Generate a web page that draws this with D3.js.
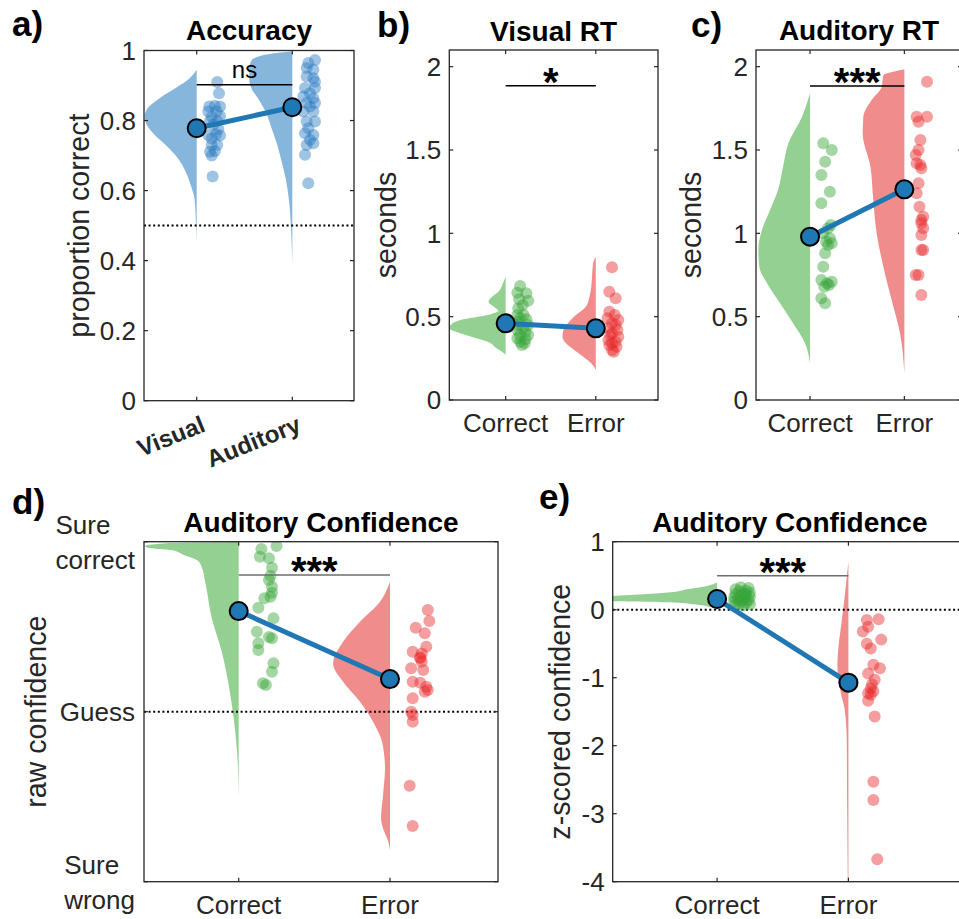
<!DOCTYPE html>
<html>
<head>
<meta charset="utf-8">
<script src="https://cdn.jsdelivr.net/npm/d3@7"></script>
<style>
body { margin: 0; background: #fff; }
svg { font-family: "Liberation Sans", Arial, Helvetica, sans-serif; }
</style>
</head>
<body>
<svg id="fig" width="959" height="919"></svg>
<script>
// ---- data ----
// points are [value, jitter in category units]
var accCats = ["Visual", "Auditory"];
var rtCats = ["Correct", "Error"];

var accVisual = [[.91,.215],[.878,.233],[.84,.132],[.842,.19],[.84,.244],[.826,.121],[.826,.209],[.811,.157],
  [.813,.244],[.799,.139],[.799,.215],[.788,.174],[.776,.226],[.759,.121],[.761,.202],[.757,.244],[.749,.157],
  [.73,.157],[.73,.215],[.711,.139],[.713,.19],[.70,.157],[.64,.167]];
var accAuditory = [[.973,.237],[.964,.167],[.95,.15],[.945,.22],[.926,.15],[.921,.22],[.911,.237],[.893,.133],
  [.893,.237],[.878,.185],[.869,.115],[.864,.22],[.85,.15],[.85,.237],[.84,.185],[.826,.115],[.826,.22],
  [.797,.15],[.797,.237],[.778,.167],[.764,.133],[.759,.22],[.745,.185],[.735,.22],[.73,.15],[.702,.133],[.621,.167]];
var accMeans = [0.778, 0.838];

var visCorrect = [[.684,.16],[.644,.13],[.64,.23],[.604,.15],[.596,.25],[.57,.19],[.55,.14],[.51,.13],[.51,.20],
  [.49,.16],[.484,.23],[.47,.14],[.45,.13],[.45,.25],[.43,.19],[.42,.13],[.41,.22],[.39,.16],[.39,.25],[.37,.13],
  [.364,.22],[.35,.16],[.34,.21],[.33,.18]];
var visError = [[.796,.18],[.65,.15],[.61,.22],[.53,.15],[.51,.21],[.49,.13],[.48,.25],[.46,.18],[.45,.22],[.43,.14],
  [.42,.24],[.40,.18],[.39,.16],[.38,.25],[.36,.14],[.35,.22],[.34,.18],[.33,.15],[.32,.23],[.30,.18],[.29,.20]];
var visMeans = [0.46, 0.43];

var audCorrect = [[1.54,.14],[1.50,.23],[1.43,.16],[1.35,.12],[1.25,.21],[1.18,.12],[1.05,.22],[1.03,.19],[1.0,.14],
  [.97,.21],[.95,.17],[.94,.23],[.93,.19],[.88,.16],[.80,.14],[.72,.12],[.70,.18],[.71,.23],[.69,.2],[.68,.15],
  [.61,.12],[.58,.16]];
var audError = [[1.91,.24],[1.70,.13],[1.70,.24],[1.67,.15],[1.56,.17],[1.50,.15],[1.47,.12],[1.42,.13],[1.41,.17],
  [1.39,.18],[1.30,.15],[1.24,.13],[1.16,.16],[1.10,.2],[1.08,.18],[1.06,.18],[1.03,.2],[.99,.18],[.90,.2],[.90,.18],
  [.75,.12],[.75,.15],[.63,.18]];
var audMeans = [0.98, 1.264];

var rawCorrect = [[.975,.25],[.957,.15],[.912,.14],[.902,.2],[.847,.22],[.80,.21],[.775,.2],[.735,.22],[.70,.22],
  [.676,.21],[.667,.17],[.612,.13],[.549,.23],[.471,.12],[.432,.22],[.44,.2],[.402,.13],[.363,.13],[.285,.23],
  [.235,.22],[.167,.16],[.157,.18]];
var rawError = [[.598,.25],[.534,.26],[.494,.17],[.461,.23],[.382,.24],[.353,.15],[.343,.21],[.32,.2],[.314,.2],
  [.294,.21],[.255,.14],[.245,.22],[.176,.15],[.17,.2],[.147,.24],[.128,.25],[.118,.23],[.079,.15],[0,.14],
  [-.02,.15],[-.059,.15],[-.435,.13],[-.672,.15]];
var rawMeans = [0.592, 0.192];

var zCorrect = [[.33,.18],[.32,.24],[.30,.14],[.28,.22],[.27,.17],[.25,.25],[.24,.2],[.23,.14],[.22,.22],[.2,.17],
  [.19,.25],[.18,.13],[.17,.21],[.15,.16],[.14,.24],[.13,.19],[.12,.13],[.1,.22],[.09,.17],[.08,.25],[.07,.14],[.06,.2]];
var zError = [[-.15,.14],[-.14,.23],[-.25,.15],[-.32,.11],[-.44,.25],[-.5,.14],[-.57,.17],[-.81,.19],[-.86,.24],
  [-.94,.15],[-1.03,.2],[-1.1,.18],[-1.16,.17],[-1.2,.19],[-1.23,.15],[-1.25,.17],[-1.34,.15],[-1.57,.2],
  [-2.53,.19],[-2.8,.19],[-3.67,.22]];
var zMeans = [0.157, -1.073];

// half-violin outlines: [value, width in category units]
var accVisualDens = [[.945,0],[.921,.073],[.893,.22],[.864,.387],[.835,.513],[.811,.544],[.788,.523],[.759,.439],
  [.73,.324],[.693,.199],[.654,.115],[.616,.063],[.578,.024],[.521,.01],[.45,0]];
var accAuditoryDens = [[.997,0],[.993,.16],[.985,.33],[.97,.43],[.95,.45],[.92,.45],[.893,.43],[.864,.36],
  [.826,.28],[.778,.217],[.73,.157],[.683,.112],[.635,.07],[.588,.042],[.54,.024],[.48,.012],[.39,0]];
var visCorrectDens = [[.74,0],[.70,.03],[.65,.08],[.62,.15],[.59,.19],[.56,.13],[.535,.08],[.51,.2],[.48,.5],
  [.455,.6],[.43,.63],[.41,.55],[.38,.38],[.35,.2],[.31,.1],[.28,.02],[.27,0]];
var visErrorDens = [[.86,0],[.82,.03],[.76,.04],[.68,.05],[.62,.07],[.56,.11],[.51,.22],[.46,.31],[.42,.36],
  [.38,.37],[.34,.33],[.30,.24],[.26,.14],[.22,.05],[.18,0]];
var audCorrectDens = [[1.84,0],[1.70,.085],[1.54,.23],[1.40,.286],[1.26,.34],[1.14,.424],[1.02,.51],[.90,.548],
  [.80,.538],[.70,.456],[.58,.318],[.46,.18],[.34,.053],[.22,0]];
var audErrorDens = [[1.985,0],[1.97,.12],[1.95,.223],[1.88,.24],[1.80,.347],[1.70,.435],[1.60,.442],[1.40,.36],
  [1.20,.33],[1.0,.294],[.80,.223],[.60,.135],[.40,.046],[.16,0]];
var rawCorrectDens = [[.998,0],[.99,.5],[.975,.62],[.965,.6],[.951,.448],[.922,.363],[.892,.277],[.863,.25],
  [.745,.218],[.549,.178],[.353,.112],[.157,.066],[-.039,.033],[-.235,.011],[-.51,0]];
var rawErrorDens = [[.765,0],[.647,.066],[.529,.198],[.412,.31],[.284,.376],[.176,.31],[.059,.198],[-.059,.112],
  [-.176,.053],[-.333,.033],[-.49,.046],[-.627,.059],[-.686,.046],[-.765,.011],[-.814,0]];
var zCorrectDens = [[.40,0],[.35,.076],[.30,.23],[.26,.335],[.23,.53],[.20,.8],[.17,1.0],[.14,.9],[.125,.8],
  [.11,.38],[.08,.18],[.04,.053],[-.01,0]];
var zErrorDens = [[.71,0],[.44,.015],[0,.04],[-.3,.06],[-.55,.076],[-.8,.084],[-1.03,.076],[-1.25,.055],
  [-1.45,.03],[-1.9,.013],[-2.8,.01],[-4,.005]];

var accTicks = [0, 0.2, 0.4, 0.6, 0.8, 1];
var rtTicks = [0, 0.5, 1, 1.5, 2];
var rawTicks = [-1, 0, 1];
var rawTickLabels = [["Sure", "wrong"], ["Guess"], ["Sure", "correct"]];
var zTicks = [-4, -3, -2, -1, 0, 1];

// ---- drawing ----
var svg = d3.select("#fig");
var ink = "#262626";
var blue = {fill: "#86b6dc", pt: "#2a7dc0"};
var green = {fill: "#95d093", pt: "#35a535"};
var red = {fill: "#f08c8c", pt: "#e8292b"};
var meanBlue = "#1f77b4";

function panel(p) {
  var x = d3.scaleLinear().domain(p.xlim).range([p.left, p.right]);
  var y = d3.scaleLinear().domain(p.ylim).range([p.bottom, p.top]);
  var g = svg.append("g");

  g.append("clipPath").attr("id", "clip" + p.id)
    .append("rect")
    .attr("x", p.left).attr("y", p.top)
    .attr("width", p.right - p.left).attr("height", p.bottom - p.top);
  var plot = g.append("g").attr("clip-path", "url(#clip" + p.id + ")");

  // half violins, left of each category
  p.groups.forEach(function(gr, i) {
    var pos = i + 1;
    var area = d3.area()
      .curve(d3.curveMonotoneY)
      .y(function(d) { return y(d[0]); })
      .x0(function(d) { return x(pos - d[1]); })
      .x1(function(d) { return x(pos); });
    plot.append("path")
      .datum(gr.dens)
      .attr("d", area)
      .attr("fill", gr.col.fill);
  });

  // reference line
  if (p.ref !== undefined) {
    plot.append("line")
      .attr("x1", p.left).attr("x2", p.right)
      .attr("y1", y(p.ref)).attr("y2", y(p.ref))
      .attr("stroke", "#000").attr("stroke-width", 2)
      .attr("stroke-dasharray", "2,2.6");
  }

  // raw points
  p.groups.forEach(function(gr, i) {
    var pos = i + 1;
    plot.append("g").selectAll("circle")
      .data(gr.pts)
      .enter()
      .append("circle")
      .attr("cx", function(d) { return x(pos + d[1]); })
      .attr("cy", function(d) { return y(d[0]); })
      .attr("r", 6)
      .attr("fill", gr.col.pt)
      .attr("fill-opacity", 0.45);
  });

  // box and ticks
  g.append("rect")
    .attr("x", p.left).attr("y", p.top)
    .attr("width", p.right - p.left).attr("height", p.bottom - p.top)
    .attr("fill", "none").attr("stroke", ink).attr("stroke-width", 1.3);
  p.yticks.forEach(function(t) {
    g.append("line").attr("x1", p.left).attr("x2", p.left + 4)
      .attr("y1", y(t)).attr("y2", y(t)).attr("stroke", ink).attr("stroke-width", 1.2);
    g.append("line").attr("x1", p.right).attr("x2", p.right - 4)
      .attr("y1", y(t)).attr("y2", y(t)).attr("stroke", ink).attr("stroke-width", 1.2);
  });
  [1, 2].forEach(function(c) {
    g.append("line").attr("x1", x(c)).attr("x2", x(c))
      .attr("y1", p.bottom).attr("y2", p.bottom - 4).attr("stroke", ink).attr("stroke-width", 1.2);
    g.append("line").attr("x1", x(c)).attr("x2", x(c))
      .attr("y1", p.top).attr("y2", p.top + 4).attr("stroke", ink).attr("stroke-width", 1.2);
  });

  // y tick labels
  if (p.ytickText) {
    p.ytickText(g, y);
  } else {
    p.yticks.forEach(function(t) {
      g.append("text")
        .attr("x", p.left - 8).attr("y", y(t))
        .attr("dy", "0.36em")
        .attr("text-anchor", "end")
        .attr("font-size", 26).attr("fill", ink)
        .text(String(t));
    });
  }

  // x tick labels
  if (p.rotLabels) {
    p.cats.forEach(function(c, i) {
      g.append("text")
        .attr("transform", "translate(" + (x(i + 1) + 10) + "," + (p.bottom + 30) + ") rotate(-22)")
        .attr("text-anchor", "end")
        .attr("font-size", 24).attr("font-weight", "bold").attr("fill", ink)
        .text(c);
    });
  } else {
    p.cats.forEach(function(c, i) {
      g.append("text")
        .attr("x", x(i + 1)).attr("y", p.bottom + 32)
        .attr("text-anchor", "middle")
        .attr("font-size", 26).attr("fill", ink)
        .text(c);
    });
  }

  // y label
  g.append("text")
    .attr("transform", "translate(" + p.ylabX + "," + ((p.top + p.bottom) / 2) + ") rotate(-90)")
    .attr("text-anchor", "middle")
    .attr("font-size", 28.6).attr("fill", ink)
    .text(p.ylabel);

  // title + panel letter
  g.append("text")
    .attr("x", (p.left + p.right) / 2).attr("y", p.titleY)
    .attr("text-anchor", "middle")
    .attr("font-size", 28).attr("font-weight", "bold").attr("fill", "#000")
    .text(p.title);
  g.append("text")
    .attr("x", p.letterX).attr("y", p.letterY)
    .attr("font-size", 35).attr("font-weight", "bold").attr("fill", "#000")
    .text(p.letter);

  // significance bar
  var sy = y(p.sigY);
  g.append("line")
    .attr("x1", x(1)).attr("x2", x(2)).attr("y1", sy).attr("y2", sy)
    .attr("stroke", p.sigCol).attr("stroke-width", 1.5);
  if (p.sig === "ns") {
    g.append("text")
      .attr("x", (x(1) + x(2)) / 2).attr("y", sy - 7)
      .attr("text-anchor", "middle").attr("font-size", 24).attr("fill", "#000")
      .text(p.sig);
  } else {
    g.append("text")
      .attr("x", (x(1) + x(2)) / 2).attr("y", sy + 10)
      .attr("text-anchor", "middle").attr("font-size", 40).attr("font-weight", "bold").attr("fill", "#000")
      .text(p.sig);
  }

  // means
  g.append("line")
    .attr("x1", x(1)).attr("y1", y(p.means[0]))
    .attr("x2", x(2)).attr("y2", y(p.means[1]))
    .attr("stroke", meanBlue).attr("stroke-width", 5);
  g.append("g").selectAll("circle")
    .data(p.means)
    .enter()
    .append("circle")
    .attr("cx", function(d, i) { return x(i + 1); })
    .attr("cy", function(d) { return y(d); })
    .attr("r", 9)
    .attr("fill", meanBlue)
    .attr("stroke", "#000").attr("stroke-width", 2);
}

panel({
  id: "a", left: 144, right: 354, top: 50.5, bottom: 400.7,
  xlim: [0.449, 2.645], ylim: [0, 1],
  groups: [{pts: accVisual, dens: accVisualDens, col: blue},
           {pts: accAuditory, dens: accAuditoryDens, col: blue}],
  means: accMeans, cats: accCats, rotLabels: true,
  yticks: accTicks, ref: 0.5,
  ylabel: "proportion correct", ylabX: 89,
  title: "Accuracy", titleY: 40, letter: "a)", letterX: 12, letterY: 36,
  sig: "ns", sigY: 0.902, sigCol: "#000"
});

panel({
  id: "b", left: 449.3, right: 658, top: 50, bottom: 400,
  xlim: [0.375, 2.69], ylim: [0, 2.1],
  groups: [{pts: visCorrect, dens: visCorrectDens, col: green},
           {pts: visError, dens: visErrorDens, col: red}],
  means: visMeans, cats: rtCats,
  yticks: rtTicks,
  ylabel: "seconds", ylabX: 396,
  title: "Visual RT", titleY: 41, letter: "b)", letterX: 377, letterY: 37,
  sig: "*", sigY: 1.886, sigCol: "#000"
});

panel({
  id: "c", left: 756, right: 962, top: 50, bottom: 400,
  xlim: [0.427, 2.611], ylim: [0, 2.1],
  groups: [{pts: audCorrect, dens: audCorrectDens, col: green},
           {pts: audError, dens: audErrorDens, col: red}],
  means: audMeans, cats: rtCats,
  yticks: rtTicks,
  ylabel: "seconds", ylabX: 701,
  title: "Auditory RT", titleY: 40, letter: "c)", letterX: 691, letterY: 37,
  sig: "***", sigY: 1.884, sigCol: "#000"
});

panel({
  id: "d", left: 144, right: 498, top: 541.7, bottom: 881.7,
  xlim: [0.374, 2.714], ylim: [-1, 1],
  groups: [{pts: rawCorrect, dens: rawCorrectDens, col: green},
           {pts: rawError, dens: rawErrorDens, col: red}],
  means: rawMeans, cats: rtCats,
  yticks: rawTicks, ref: 0,
  ytickText: function(g, y) {
    rawTicks.forEach(function(t, i) {
      var lines = rawTickLabels[i];
      var n = lines.length;
      var longest = lines.reduce(function(a, b) { return b.length > a.length ? b : a; });
      var probe = g.append("text").attr("font-size", 26).text(longest);
      var w = probe.node().getComputedTextLength();
      probe.remove();
      lines.forEach(function(s, k) {
        g.append("text")
          .attr("x", 135 - w)
          .attr("y", y(t) + (k - (n - 1) / 2) * 35)
          .attr("dy", "0.36em")
          .attr("font-size", 26).attr("fill", ink)
          .text(s);
      });
    });
  },
  ylabel: "raw confidence", ylabX: 46,
  title: "Auditory Confidence", titleY: 532, letter: "d)", letterX: 12, letterY: 514,
  sig: "***", sigY: 0.804, sigCol: "#6e6e6e"
});

panel({
  id: "e", left: 612.7, right: 967, top: 541.7, bottom: 881.7,
  xlim: [0.205, 2.903], ylim: [-4, 1],
  groups: [{pts: zCorrect, dens: zCorrectDens, col: green},
           {pts: zError, dens: zErrorDens, col: red}],
  means: zMeans, cats: rtCats,
  yticks: zTicks, ref: 0,
  ylabel: "z-scored confidence", ylabX: 570,
  title: "Auditory Confidence", titleY: 532, letter: "e)", letterX: 539, letterY: 509,
  sig: "***", sigY: 0.5, sigCol: "#6e6e6e"
});
</script>
</body>
</html>
